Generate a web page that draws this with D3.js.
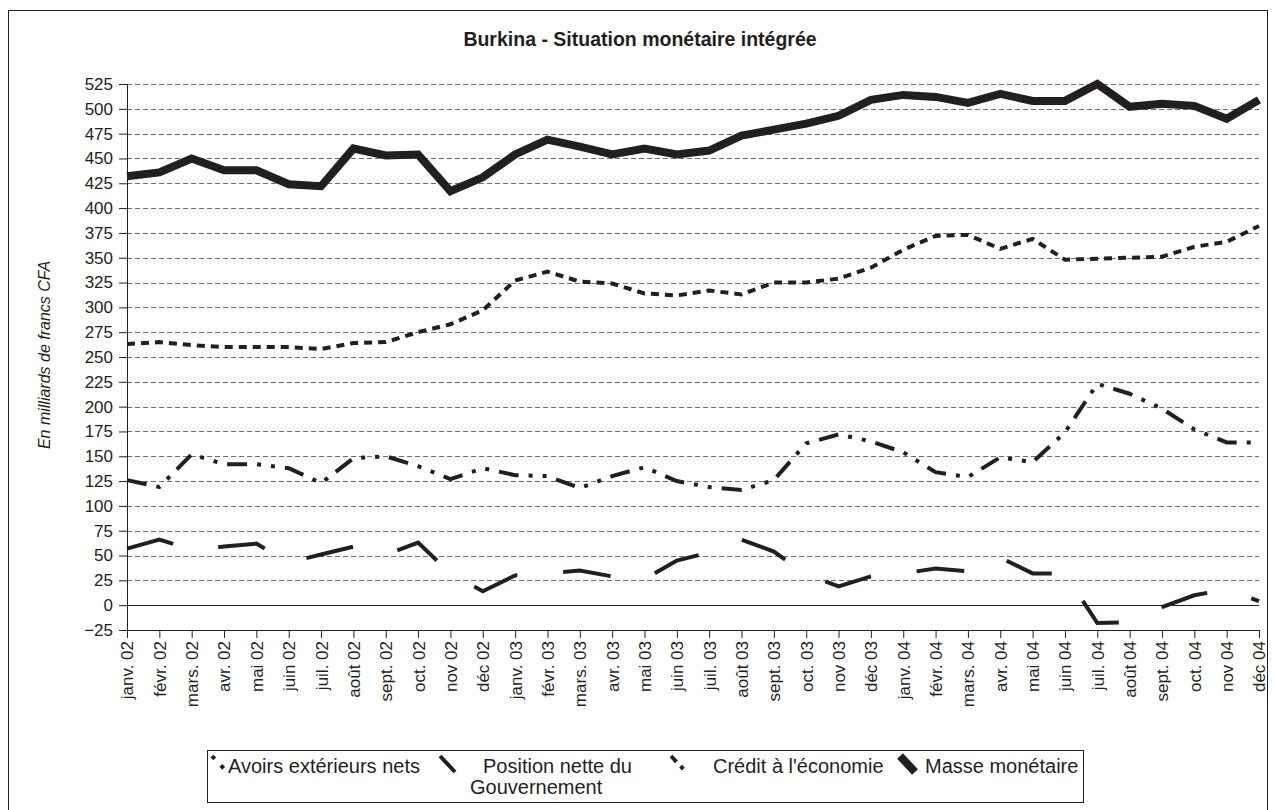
<!DOCTYPE html>
<html>
<head>
<meta charset="utf-8">
<script src="https://cdn.jsdelivr.net/npm/d3@7"></script>
<style>
  body { margin: 0; background: #fff; }
  text { font-family: "Liberation Sans", Arial, sans-serif; fill: #231f20; }
</style>
</head>
<body>
<div id="chart"></div>
<script>
var width = 1275;
var height = 810;

// data, milliards de francs CFA
var months = ["janv. 02", "févr. 02", "mars. 02", "avr. 02", "mai 02", "juin 02", "juil. 02", "août 02", "sept. 02", "oct. 02", "nov 02", "déc 02",
  "janv. 03", "févr. 03", "mars. 03", "avr. 03", "mai 03", "juin 03", "juil. 03", "août 03", "sept. 03", "oct. 03", "nov 03", "déc 03",
  "janv. 04", "févr. 04", "mars. 04", "avr. 04", "mai 04", "juin 04", "juil. 04", "août 04", "sept. 04", "oct. 04", "nov 04", "déc 04"];

var avoirs = [263, 265, 262, 260, 260, 260, 258, 264, 265, 275, 283, 297, 327, 336, 326, 324, 314, 312,
  317, 313, 325, 325, 329, 340, 358, 372, 373, 359, 369, 348, 349, 350, 351, 361, 366, 382];
var position = [57, 66, 56, 59, 62, 43, 51, 59, 51, 63, 32, 14, 30, 32, 35, 29, 26, 45,
  53, 66, 54, 31, 19, 29, 32, 37, 34, 48, 32, 32, -18, -17, -2, 10, 16, 4];
var credit = [126, 119, 152, 142, 142, 138, 123, 148, 150, 140, 127, 138, 131, 130, 118, 130, 139, 125,
  119, 116, 126, 163, 172, 165, 154, 134, 129, 149, 144, 174, 223, 213, 198, 177, 164, 164];
var masse = [432, 436, 450, 438, 438, 424, 422, 460, 453, 454, 417, 431, 454, 469, 462, 454, 460, 454,
  458, 473, 479, 485, 493, 509, 514, 512, 506, 515, 508, 508, 525, 502, 505, 503, 490, 509];

var yTicks = d3.range(-25, 526, 25);

var series = [
  { name: "Avoirs extérieurs nets", values: avoirs, width: 4, dash: "8,6" },
  { name: "Position nette du Gouvernement", values: position, width: 4, dash: "48,46" },
  { name: "Crédit à l'économie", values: credit, width: 4, dash: "20,10,4,10,4,10" },
  { name: "Masse monétaire", values: masse, width: 8, dash: null }
];

var svg = d3.select("#chart")
  .append("svg")
  .attr("width", width)
  .attr("height", height);

// outer frame
svg.append("rect")
  .attr("x", 8.5).attr("y", 10.5)
  .attr("width", 1259).attr("height", 820)
  .attr("fill", "none")
  .attr("stroke", "#231f20")
  .attr("stroke-width", 1);

var plotLeft = 127, plotRight = 1259, plotTop = 84, plotBottom = 630;

var x = d3.scalePoint()
  .domain(months)
  .range([plotLeft, plotRight]);

var y = d3.scaleLinear()
  .domain([-25, 525])
  .range([plotBottom, plotTop]);

// gridlines
svg.append("g")
  .selectAll("line")
  .data(yTicks.filter(function(d) { return d > -25; }))
  .enter()
  .append("line")
  .attr("x1", plotLeft).attr("x2", plotRight)
  .attr("y1", function(d) { return Math.round(y(d)) + 0.5; })
  .attr("y2", function(d) { return Math.round(y(d)) + 0.5; })
  .attr("stroke", function(d) { return d === 0 ? "#231f20" : "#6d6d6d"; })
  .attr("stroke-dasharray", function(d) { return d === 0 ? null : "5,3"; })
  .attr("stroke-width", 1);

// y axis
var yAxis = svg.append("g")
  .attr("transform", "translate(" + plotLeft + ",0)")
  .call(d3.axisLeft(y).tickValues(yTicks).tickSize(8).tickPadding(6));

// x axis
var xAxis = svg.append("g")
  .attr("transform", "translate(0," + plotBottom + ")")
  .call(d3.axisBottom(x).tickSize(8).tickPadding(5));

xAxis.selectAll("text")
  .attr("transform", "rotate(-90)")
  .attr("text-anchor", "end")
  .attr("x", -11)
  .attr("y", 0)
  .attr("dy", "0.35em");

[yAxis, xAxis].forEach(function(a) {
  a.select(".domain").attr("stroke", "#231f20");
  a.selectAll(".tick line").attr("stroke", "#231f20");
  a.selectAll("text")
    .style("font-size", "17px")
    .style("fill", "#231f20")
    .style("font-family", "'Liberation Sans', Arial, sans-serif");
});

// lines
var line = d3.line()
  .x(function(d, i) { return x(months[i]); })
  .y(function(d) { return y(d); });

svg.append("g")
  .selectAll("path")
  .data(series)
  .enter()
  .append("path")
  .attr("d", function(d) { return line(d.values); })
  .attr("fill", "none")
  .attr("stroke", "#231f20")
  .attr("stroke-width", function(d) { return d.width; })
  .attr("stroke-dasharray", function(d) { return d.dash; })
  .attr("stroke-linejoin", "miter");

// title
svg.append("text")
  .attr("x", 640).attr("y", 46)
  .attr("text-anchor", "middle")
  .style("font-size", "19.5px")
  .style("font-weight", "bold")
  .text("Burkina - Situation monétaire intégrée");

svg.append("text")
  .attr("transform", "translate(50,355) rotate(-90)")
  .attr("text-anchor", "middle")
  .style("font-size", "16px")
  .style("font-style", "italic")
  .text("En milliards de francs CFA");

// legend
var legend = svg.append("g");
legend.append("rect")
  .attr("x", 207.5).attr("y", 750.5)
  .attr("width", 876).attr("height", 52)
  .attr("fill", "#fff")
  .attr("stroke", "#231f20");

var legendItems = [
  { s: series[0], sx: 212, tx: 228, lines: ["Avoirs extérieurs nets"] },
  { s: series[1], sx: 440, tx: 470, lines: ["Position nette du", "Gouvernement"] },
  { s: series[2], sx: 671, tx: 713, lines: ["Crédit à l'économie"] },
  { s: series[3], sx: 900, tx: 925, lines: ["Masse monétaire"] }
];

legendItems.forEach(function(it, i) {
  var sym = legend.append("line")
    .attr("x1", it.sx).attr("y1", 756)
    .attr("x2", it.sx + 15).attr("y2", 772)
    .attr("stroke", "#231f20")
    .attr("stroke-width", it.s.width);
  if (i === 0) sym.attr("stroke-dasharray", "4,9");
  if (i === 2) sym.attr("stroke-dasharray", "8,6,4,10");
  it.lines.forEach(function(t, j) {
    legend.append("text")
      .attr("x", j === 0 && i === 1 ? it.tx + 13 : it.tx)
      .attr("y", 773 + j * 21)
      .style("font-size", "20px")
      .text(t);
  });
});
</script>
</body>
</html>
